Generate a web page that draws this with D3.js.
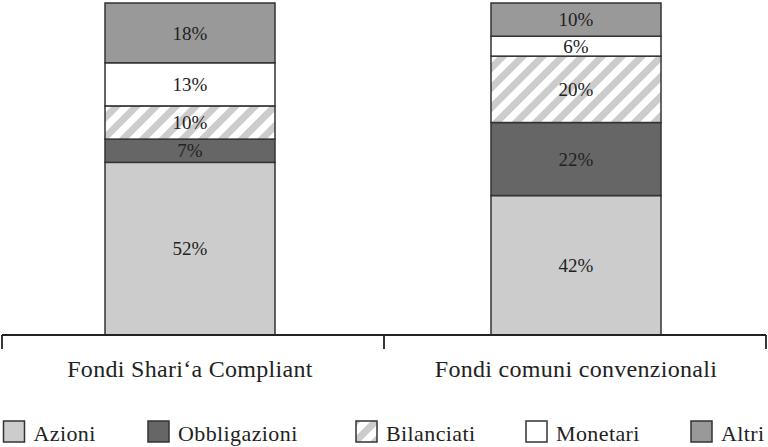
<!DOCTYPE html>
<html><head><meta charset="utf-8">
<script src="https://cdn.jsdelivr.net/npm/d3@7"></script>
<style>
html,body{margin:0;padding:0;background:#fff;}
svg{display:block;}
text{font-family:"Liberation Serif","DejaVu Serif",serif;fill:#222;}
</style></head>
<body>
<svg id="chart" width="768" height="447"></svg>
<script>
const categories = ["Fondi Shari\u2018a Compliant", "Fondi comuni convenzionali"];
const seriesNames = ["Azioni", "Obbligazioni", "Bilanciati", "Monetari", "Altri"];
const azioni = [52, 42];
const obbligazioni = [7, 22];
const bilanciati = [10, 20];
const monetari = [13, 6];
const altri = [18, 10];

const seriesValues = [azioni, obbligazioni, bilanciati, monetari, altri];
const fills = ["#cccccc", "#666666", "url(#hatch)", "#ffffff", "#999999"];

const svg = d3.select("#chart");

const defs = svg.append("defs");
const pat = defs.append("pattern").attr("id", "hatch")
  .attr("patternUnits", "userSpaceOnUse").attr("width", 14).attr("height", 14)
  .attr("patternTransform", "rotate(45)");
pat.append("rect").attr("width", 14).attr("height", 14).attr("fill", "#fff");
pat.append("rect").attr("width", 7).attr("height", 14).attr("fill", "#cccccc");

const table = categories.map((c, i) => {
  const o = { cat: c };
  seriesNames.forEach((s, j) => o[s] = seriesValues[j][i]);
  return o;
});
const stacked = d3.stack().keys(seriesNames)(table);

const x = d3.scaleBand().domain(categories).range([-3, 769]).paddingInner(0.5596).paddingOuter(0.2798);
const xAxisScale = d3.scaleBand().domain(categories).range([2, 766]);
const y = d3.scaleLinear().domain([0, 100]).range([335, 3]);

// bars
const layers = svg.append("g").selectAll("g").data(stacked).enter().append("g")
  .attr("fill", (d, i) => fills[i]);
layers.selectAll("rect").data(d => d.map(v => ({ v, key: d.key }))).enter().append("rect")
  .attr("x", d => x(d.v.data.cat))
  .attr("width", x.bandwidth())
  .attr("y", d => y(d.v[1]))
  .attr("height", d => y(d.v[0]) - y(d.v[1]))
  .attr("stroke", "#333").attr("stroke-width", 1.5);

// value labels
const lab = svg.append("g");
stacked.forEach(layer => {
  layer.forEach(v => {
    lab.append("text")
      .attr("x", x(v.data.cat) + x.bandwidth() / 2)
      .attr("y", (y(v[0]) + y(v[1])) / 2)
      .attr("dy", "0.35em")
      .attr("text-anchor", "middle")
      .attr("font-size", 19)
      .text((v[1] - v[0]) + "%");
  });
});

// axis
const ax = svg.append("g");
const r = xAxisScale.range();
ax.append("line").attr("x1", r[0]).attr("x2", r[1]).attr("y1", y(0)).attr("y2", y(0))
  .attr("stroke", "#222").attr("stroke-width", 1.8);
const bounds = categories.map(c => xAxisScale(c)).concat([xAxisScale(categories[categories.length - 1]) + xAxisScale.bandwidth()]);
ax.selectAll("line.tick").data(bounds).enter().append("line").attr("class", "tick")
  .attr("x1", d => d).attr("x2", d => d).attr("y1", y(0)).attr("y2", y(0) + 14)
  .attr("stroke", "#222").attr("stroke-width", 1.8);
ax.selectAll("text.cat").data(categories).enter().append("text").attr("class", "cat")
  .attr("x", d => x(d) + x.bandwidth() / 2).attr("y", 377)
  .attr("text-anchor", "middle").attr("font-size", 24).attr("letter-spacing", 0.3)
  .text(d => d);

// legend (item positions follow the reference layout)
const legendX = [3.5, 148, 356, 526, 691];
const leg = svg.append("g");
seriesNames.forEach((s, i) => {
  const lx = legendX[i];
  leg.append("rect").attr("x", lx).attr("y", 421).attr("width", 21).attr("height", 21)
    .attr("fill", fills[i]).attr("stroke", "#333").attr("stroke-width", 1.5);
  leg.append("text").attr("x", lx + 30).attr("y", 441).attr("font-size", 22)
    .attr("letter-spacing", 0.4).text(s);
});
</script>
</body></html>
